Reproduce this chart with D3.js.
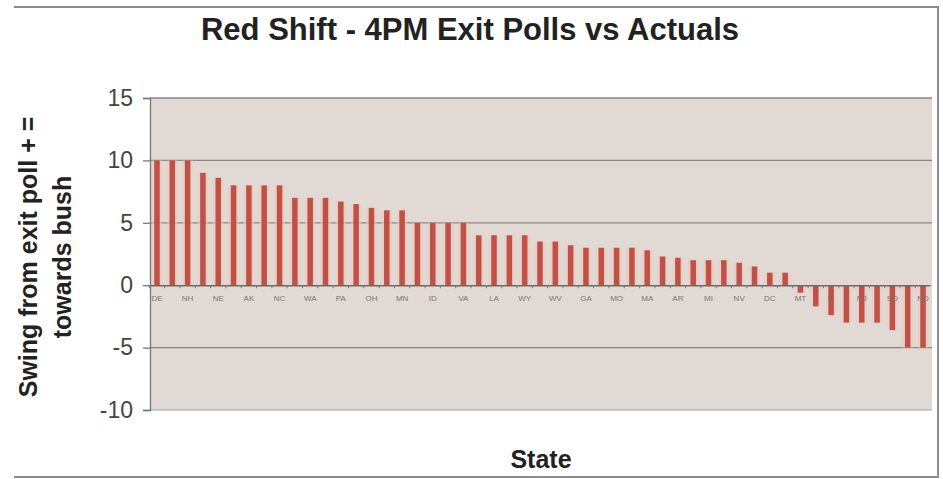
<!DOCTYPE html>
<html>
<head>
<meta charset="utf-8">
<script src="https://cdn.jsdelivr.net/npm/d3@7"></script>
<style>
  body { margin: 0; background: #fff; }
  svg { display: block; font-family: Arial, "Liberation Sans", sans-serif; }
</style>
</head>
<body>
<svg id="chart" width="943" height="479"></svg>
<script>
// states in chart order (only every other one is labelled in the original)
const states = [
  'DE','VT','NH','CT','NE','NY','AK','SC','NC','AL','WA','MS','PA','MD','OH','ME',
  'MN','RI','ID','TX','VA','CO','LA','OK','WY','UT','WV','IN','GA','KY','MO','TN',
  'MA','AZ','AR','FL','MI','OR','NV','NM','DC','WI','MT','CA','IL','HI','NJ','KS',
  'SD','IA','ND'
];
// swing from exit poll, + = towards Bush
const swing = [
  10, 10, 10, 9, 8.6, 8, 8, 8, 8, 7, 7, 7, 6.7, 6.5, 6.2, 6, 6,
  5, 5, 5, 5, 4, 4, 4, 4, 3.5, 3.5, 3.2, 3, 3, 3, 3, 2.8,
  2.3, 2.2, 2, 2, 2, 1.8, 1.5, 1, 1, -0.6, -1.7, -2.4, -3, -3, -3,
  -3.6, -5, -5
];
const yTicks = [-10, -5, 0, 5, 10, 15];

const data = states.map((s, i) => ({ state: s, value: swing[i] }));

const svg = d3.select('#chart');
const plotLeft = 150, plotRight = 932, plotTop = 98, plotBottom = 410;

// outer chart frame (top, right, bottom edges visible)
svg.append('path')
  .attr('d', `M14,7 H938 V477 H14`)
  .attr('fill', 'none')
  .attr('stroke', '#8c8c8c')
  .attr('stroke-width', 2);

const x = d3.scaleBand()
  .domain(states)
  .range([plotLeft, plotRight - 2])
  .paddingInner(0.64)
  .paddingOuter(0.275);

const y = d3.scaleLinear()
  .domain([-10, 15])
  .range([plotBottom, plotTop]);

// plot area
svg.append('rect')
  .attr('x', plotLeft)
  .attr('y', plotTop)
  .attr('width', plotRight - plotLeft)
  .attr('height', plotBottom - plotTop)
  .attr('fill', '#e1d9d4');

// gridlines
svg.append('g')
  .selectAll('line')
  .data(yTicks.filter(d => d !== -10 && d !== 0))
  .enter()
  .append('line')
  .attr('x1', plotLeft)
  .attr('x2', plotRight)
  .attr('y1', d => y(d))
  .attr('y2', d => y(d))
  .attr('stroke', '#8a8686')
  .attr('stroke-width', 1.3);

// bottom edge of plot
svg.append('line')
  .attr('x1', plotLeft).attr('x2', plotRight)
  .attr('y1', plotBottom).attr('y2', plotBottom)
  .attr('stroke', '#a8a4a2')
  .attr('stroke-width', 1);

// soft halo behind bars (the original is a blurry jpeg)
svg.append('g')
  .selectAll('rect')
  .data(data)
  .enter()
  .append('rect')
  .attr('x', d => x(d.state) - 2.5)
  .attr('width', x.bandwidth() + 5)
  .attr('y', d => y(Math.max(0, d.value)))
  .attr('height', d => Math.abs(y(d.value) - y(0)))
  .attr('fill', '#f2c6bd')
  .attr('opacity', 0.6);

// bars
svg.append('g')
  .selectAll('rect')
  .data(data)
  .enter()
  .append('rect')
  .attr('x', d => x(d.state))
  .attr('width', x.bandwidth())
  .attr('y', d => y(Math.max(0, d.value)))
  .attr('height', d => Math.abs(y(d.value) - y(0)))
  .attr('fill', '#bf5146');

// y axis
const yAxis = svg.append('g')
  .attr('transform', `translate(${plotLeft},0)`)
  .call(d3.axisLeft(y)
    .tickValues(yTicks)
    .tickFormat(d => String(d))
    .tickSize(7)
    .tickPadding(10));
yAxis.select('.domain').attr('stroke', '#777').attr('stroke-width', 1.3);
yAxis.selectAll('.tick line').attr('stroke', '#777').attr('stroke-width', 1.3);
yAxis.selectAll('.tick text')
  .attr('fill', '#444')
  .style('font-size', '23px');

// x axis at zero
const xAxis = svg.append('g')
  .attr('transform', `translate(0,${y(0)})`)
  .call(d3.axisBottom(x)
    .tickValues(states.filter((s, i) => i % 2 === 0))
    .tickSize(0)
    .tickPadding(10));
xAxis.select('.domain').attr('stroke', '#6a6a6a').attr('stroke-width', 1.5);
xAxis.selectAll('.tick text')
  .attr('fill', '#777')
  .style('font-size', '8px');

// tick marks between categories
const step = x.step();
svg.append('g')
  .selectAll('line')
  .data(states)
  .enter()
  .append('line')
  .attr('x1', d => x(d) + x.bandwidth() / 2 - step / 2)
  .attr('x2', d => x(d) + x.bandwidth() / 2 - step / 2)
  .attr('y1', y(0))
  .attr('y2', y(0) + 3)
  .attr('stroke', '#777');

// title
svg.append('text')
  .attr('x', 470)
  .attr('y', 40)
  .attr('text-anchor', 'middle')
  .style('font-size', '31px')
  .style('font-weight', 'bold')
  .attr('fill', '#222')
  .text('Red Shift - 4PM Exit Polls vs Actuals');

// y axis title
const yTitle = svg.append('text')
  .attr('transform', 'translate(45,257) rotate(-90)')
  .attr('text-anchor', 'middle')
  .style('font-size', '25px')
  .style('font-weight', 'bold')
  .attr('fill', '#222');
yTitle.append('tspan').attr('x', 0).attr('y', -8).text('Swing from exit poll + =');
yTitle.append('tspan').attr('x', 0).attr('y', 26).text('towards bush');

// x axis title
svg.append('text')
  .attr('x', 541)
  .attr('y', 468)
  .attr('text-anchor', 'middle')
  .style('font-size', '25px')
  .style('font-weight', 'bold')
  .attr('fill', '#222')
  .text('State');
</script>
</body>
</html>
